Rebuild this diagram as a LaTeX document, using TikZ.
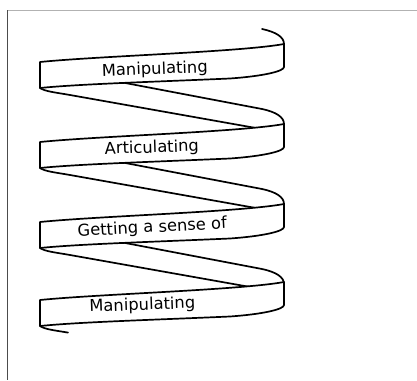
\documentclass[tikz,border=0pt]{standalone}
\usepackage{fontspec}
\newfontfamily\handfont{DejaVu Sans}
\begin{document}
\begin{tikzpicture}[x=1pt,y=-1pt,
  ribbon/.style={draw=black, line width=1.7pt, line join=round, line cap=round},
  band/.style={ribbon, fill=white},
  lab/.style={anchor=base, font=\handfont\fontsize{16.3}{18}\selectfont, inner sep=0pt}]
\useasboundingbox (0,0) rectangle (417,380);
\fill[white] (0,0) rectangle (417,380);
% frame
\draw[gray!60, line width=1.2pt] (7,10.5) -- (417,10.5);
\draw[black!70, line width=1.8pt] (7.5,10) -- (7.5,380);
% top tail
\draw[ribbon] (262,29) .. controls (276,32) and (284,37) .. (284,44);
% back strips
\foreach \L in {62,142,222}{
  \draw[ribbon] (40,\L+26) .. controls (45,\L+29.5) and (56,\L+30.5) .. (70,\L+33) -- (266,\L+67.8);
  \draw[ribbon] (100,\L+16.2) -- (262,\L+47) .. controls (276,\L+50) and (284,\L+55) .. (284,\L+62);
}
% bottom tail
\draw[ribbon] (40,326) .. controls (45,329.5) and (56,330.5) .. (68,332.6);
% front bands
\foreach \L in {62,142,222,300}{
  \draw[band] (40,\L) .. controls (100,\L-6) and (240,\L-10) .. (284,\L-18)
    -- (284,\L+5) .. controls (284,\L+9) and (265,\L+14) .. (230,\L+16.5)
    .. controls (150,\L+20) and (80,\L+22) .. (40,\L+26) -- cycle;
}
% labels
\node[lab, rotate=2] (m1) at (155,74.3) {Manipulating};
\node[lab, rotate=1.8] (ar) at (152,152.8) {Articulating};
\node[lab, rotate=3.2] (gs) at (152.5,232.5) {Getting a sense of};
\node[lab, rotate=2] (m2) at (142.5,310) {Manipulating};
\end{tikzpicture}
\end{document}
